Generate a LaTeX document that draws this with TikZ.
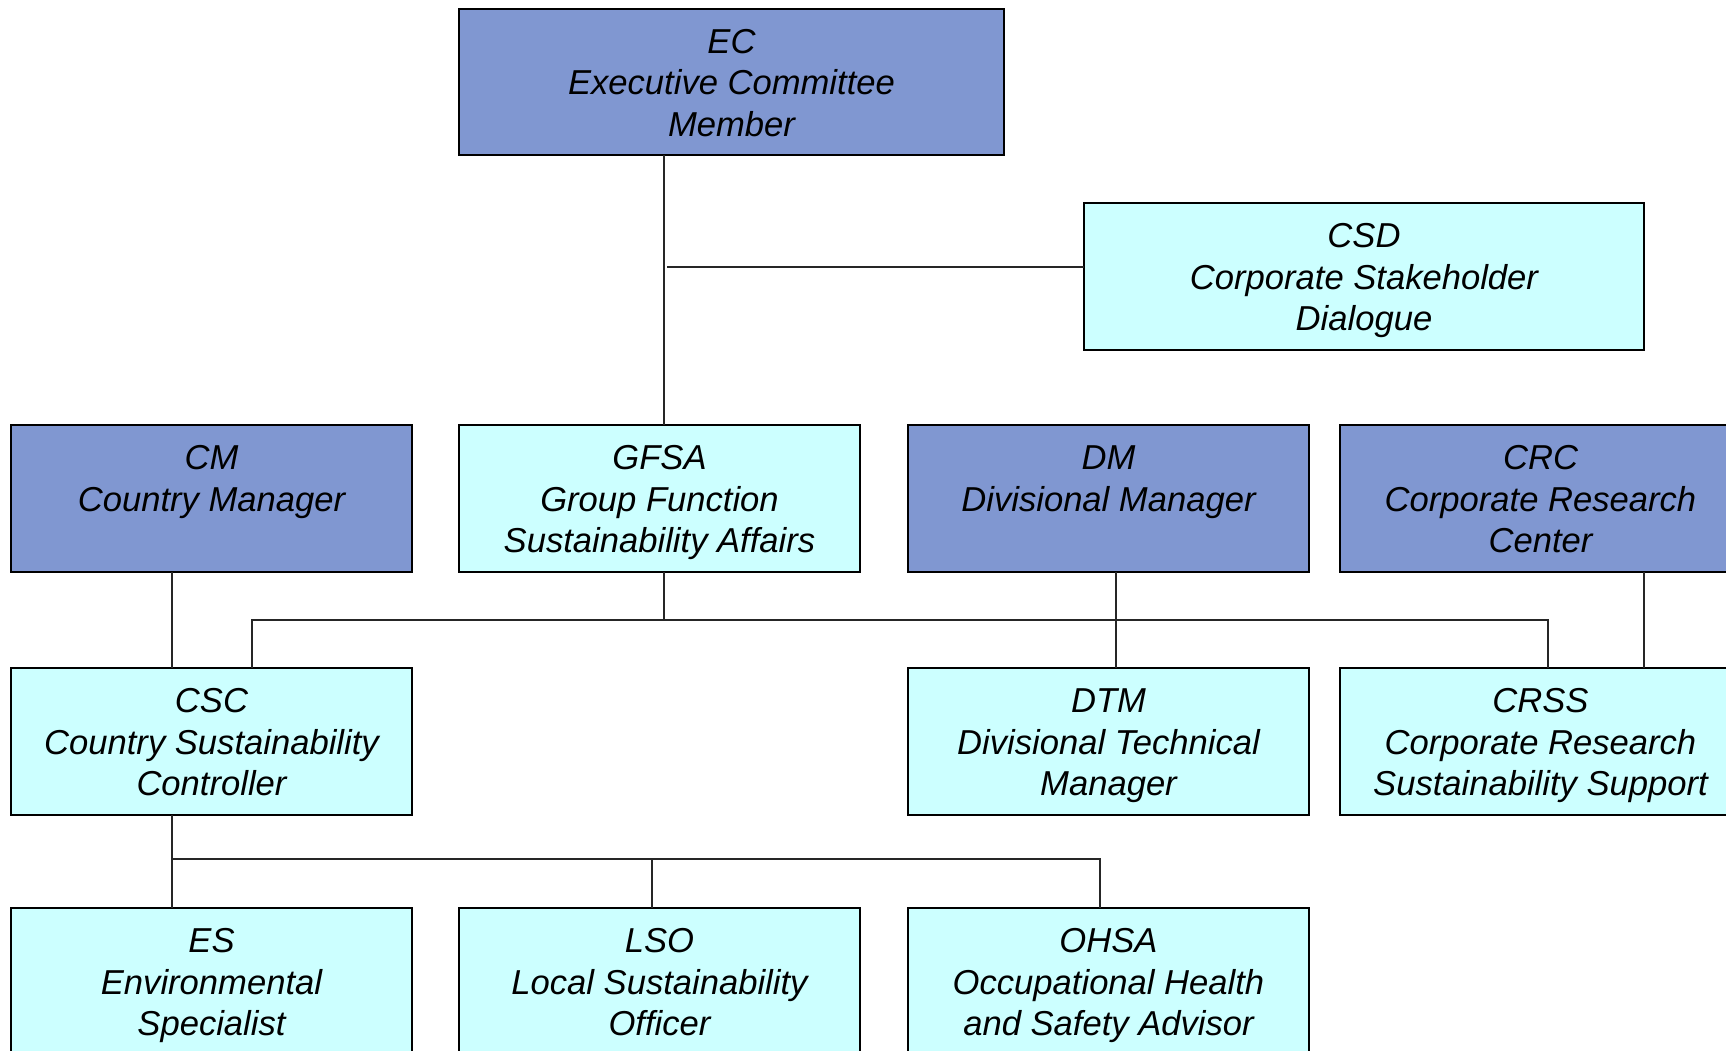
\documentclass[tikz,border=0pt]{standalone}
\usepackage{fontspec}
\setmainfont{Liberation Sans}
\definecolor{mgrblue}{RGB}{128,151,209}
\definecolor{unitcyan}{RGB}{204,255,255}
\newcommand\ocTop{\rule{0pt}{38.1pt}}
\begin{document}
\begin{tikzpicture}[x=1pt,y=-1pt,
  orgbox/.style={draw=black, line width=1.8pt, minimum width=401pt, minimum height=146.7pt,
    anchor=north west, inner sep=0pt, outer sep=0pt, align=center,
    font=\fontsize{34.6}{41.6}\selectfont\itshape},
  mgr/.style={orgbox, fill=mgrblue},
  unit/.style={orgbox, fill=unitcyan},
  conn/.style={line width=1.5pt, draw=black!85}]
\path[use as bounding box] (0,0) rectangle (1726,1050);
\clip (0,0) rectangle (1726,1050);
\fill[white] (0,0) rectangle (1726,1050);

% top
\node[mgr, minimum width=545pt, minimum height=146pt] (EC) at (459,9)
  {\ocTop EC\\\strut Executive Committee\\\strut Member};
\node[unit, minimum width=560pt, minimum height=147pt] (CSD) at (1084,203)
  {\ocTop CSD\\\strut Corporate Stakeholder\\\strut Dialogue};

% row 2
\node[mgr] (CM) at (11,425) {\ocTop CM\\\strut Country Manager\\\strut};
\node[unit] (GFSA) at (459,425) {\ocTop GFSA\\\strut Group Function\\\strut Sustainability Affairs};
\node[mgr] (DM) at (908,425) {\ocTop DM\\\strut Divisional Manager\\\strut};
\node[mgr] (CRC) at (1340,425) {\ocTop CRC\\\strut Corporate Research\\\strut Center};

% row 3
\node[unit] (CSC) at (11,668) {\ocTop CSC\\\strut Country Sustainability\\\strut Controller};
\node[unit] (DTM) at (908,668) {\ocTop DTM\\\strut Divisional Technical\\\strut Manager};
\node[unit] (CRSS) at (1340,668) {\ocTop CRSS\\\strut Corporate Research\\\strut Sustainability Support};

% row 4
\node[unit] (ES) at (11,908) {\ocTop ES\\\strut Environmental\\\strut Specialist};
\node[unit] (LSO) at (459,908) {\ocTop LSO\\\strut Local Sustainability\\\strut Officer};
\node[unit] (OHSA) at (908,908) {\ocTop OHSA\\\strut Occupational Health\\\strut and Safety Advisor};

% helper coordinates
\coordinate (xEC) at (664,0);
\coordinate (j1) at (667,267);
\coordinate (bL) at (252,620);
\coordinate (bR) at (1548,620);
\coordinate (xDM) at (1116,0);
\coordinate (xCM) at (172,0);
\coordinate (xCRC) at (1644,0);
\coordinate (b2L) at (172,859);
\coordinate (b2R) at (1100,859);
\coordinate (xLSO) at (652,859);

% connectors
\draw[conn] (EC.south -| xEC) -- (GFSA.north -| xEC);
\draw[conn] (j1) -- (j1 -| CSD.west);
\draw[conn] (GFSA.south -| xEC) -- (bL -| xEC);
\draw[conn] (CSC.north -| bL) -- (bL) -- (bR) -- (CRSS.north -| bR);
\draw[conn] (DM.south -| xDM) -- (DTM.north -| xDM);
\draw[conn] (CM.south -| xCM) -- (CSC.north -| xCM);
\draw[conn] (CRC.south -| xCRC) -- (CRSS.north -| xCRC);
\draw[conn] (CSC.south -| b2L) -- (ES.north -| b2L);
\draw[conn] (b2L) -- (b2R) -- (OHSA.north -| b2R);
\draw[conn] (xLSO) -- (LSO.north -| xLSO);
\end{tikzpicture}
\end{document}
